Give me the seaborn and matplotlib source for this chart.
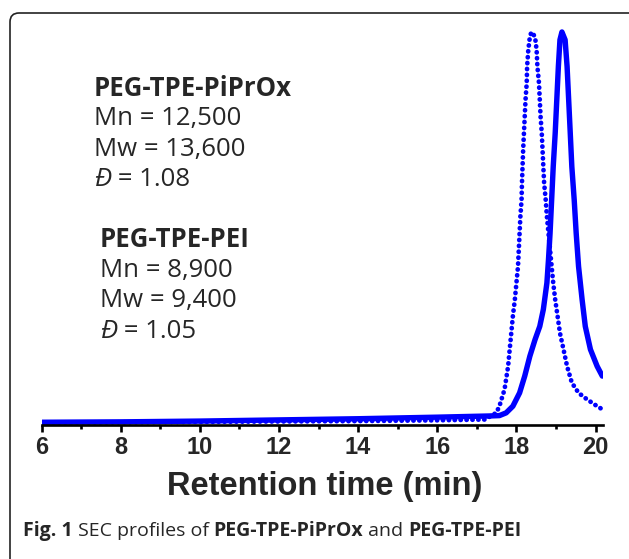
import numpy as np
import pandas as pd
import matplotlib
matplotlib.use("Agg")
import matplotlib.pyplot as plt
import seaborn as sns
from matplotlib.patches import FancyBboxPatch
from matplotlib.transforms import IdentityTransform

sns.set_style("white")

# SEC traces (retention time in min, normalised detector signal)
piprox_time = [6.0, 8.0, 10.0, 12.0, 14.0, 16.0, 17.2, 17.49, 17.57, 17.70, 17.79,
               17.83, 17.87, 17.91, 17.96, 18.00, 18.04, 18.06, 18.08, 18.10, 18.13,
               18.14, 18.17, 18.19, 18.21, 18.23, 18.26, 18.27, 18.30, 18.34, 18.38,
               18.47, 18.51, 18.53, 18.57, 18.59, 18.61, 18.64, 18.66, 18.68, 18.70,
               18.74, 18.77, 18.81, 18.85, 18.89, 18.93, 18.98, 19.04, 19.10, 19.19,
               19.28, 19.40, 19.57, 19.79, 20.04, 20.17]
piprox_signal = [0.002, 0.003, 0.004, 0.005, 0.006, 0.008, 0.010, 0.027, 0.044, 0.087, 0.146,
                 0.189, 0.231, 0.274, 0.316, 0.359, 0.401, 0.444, 0.486, 0.529, 0.571,
                 0.614, 0.699, 0.742, 0.784, 0.827, 0.869, 0.912, 0.954, 0.988, 1.000,
                 0.988, 0.954, 0.912, 0.869, 0.827, 0.784, 0.742, 0.699, 0.656, 0.614,
                 0.571, 0.529, 0.486, 0.444, 0.401, 0.359, 0.316, 0.274, 0.231, 0.189,
                 0.146, 0.104, 0.078, 0.061, 0.044, 0.036]

pei_time = [6.0, 8.0, 10.0, 12.0, 14.0, 16.0, 17.3, 17.57, 17.74, 17.91, 18.08, 18.21,
            18.34, 18.47, 18.59, 18.68, 18.77, 18.81, 18.85, 18.89, 18.93, 18.98,
            19.02, 19.06, 19.10, 19.15, 19.23, 19.28, 19.32, 19.36, 19.40, 19.46,
            19.51, 19.57, 19.66, 19.74, 19.87, 20.04, 20.17]
pei_signal = [0.003, 0.004, 0.006, 0.009, 0.012, 0.016, 0.019, 0.020, 0.027, 0.044, 0.078, 0.121,
              0.172, 0.214, 0.248, 0.291, 0.359, 0.418, 0.486, 0.571, 0.656, 0.742,
              0.827, 0.912, 0.980, 1.000, 0.980, 0.912, 0.827, 0.742, 0.656, 0.571,
              0.486, 0.401, 0.316, 0.248, 0.189, 0.146, 0.121]

major_ticks = [6, 8, 10, 12, 14, 16, 18, 20]
minor_ticks = [7, 9, 11, 13, 15, 17, 19]

piprox_lines = ["Mn = 12,500", "Mw = 13,600", " = 1.08"]
pei_lines = ["Mn = 8,900", "Mw = 9,400", " = 1.05"]

W, H = 629, 559
fig = plt.figure(figsize=(W / 100, H / 100), dpi=100)
ax = fig.add_axes([41.5 / W, 1 - 425 / H, (602.7 - 41.5) / W, (425 - 20) / H])

blue = "#0000ff"
sns.lineplot(x=piprox_time, y=piprox_signal, ax=ax, color=blue, lw=3.4,
             linestyle=(0, (0.05, 1.2)), dash_capstyle="round", estimator=None)
sns.lineplot(x=pei_time, y=pei_signal, ax=ax, color=blue, lw=3.9,
             estimator=None, solid_capstyle="round")

ax.set_xlim(6, 20.18)
ax.set_ylim(-0.004, 1.0306)
for s in ["top", "right", "left"]:
    ax.spines[s].set_visible(False)
ax.spines["bottom"].set_linewidth(1.9)
ax.spines["bottom"].set_color("black")
ax.set_yticks([])
ax.set_xticks(major_ticks)
ax.set_xticks(minor_ticks, minor=True)
ax.tick_params(axis="x", which="major", direction="out", length=5.2, width=1.9,
               color="black", pad=2.5, bottom=True)
ax.tick_params(axis="x", which="minor", direction="out", length=3.2, width=1.9,
               color="black", bottom=True)
for lab in ax.get_xticklabels():
    lab.set_fontfamily("Liberation Sans")
    lab.set_fontweight("bold")
    lab.set_fontsize(17)
ax.set_xlabel("")
ax.patch.set_alpha(0)

fig.text(325 / W, 1 - 486 / H, "Retention time (min)", ha="center", va="center",
         fontsize=23.5, fontweight="bold", family="Liberation Sans")

# annotation blocks
def block(x, y0, title, lines):
    tf = dict(family="Open Sans", fontsize=18.5)
    fig.text(x / W, 1 - y0 / H, title, va="center", fontweight="bold", **tf)
    for i, line in enumerate(lines):
        yy = 1 - (y0 + 31 + i * 30) / H
        if i == 2:
            t = fig.text(x / W, yy, "Đ", va="center", fontstyle="italic", **tf)
            fig.canvas.draw()
            bb = t.get_window_extent()
            fig.text(bb.x1 / W, yy, line, va="center", **tf)
        else:
            fig.text(x / W, yy, line, va="center", **tf)

block(94, 88, "PEG-TPE-PiPrOx", piprox_lines)
block(100, 240, "PEG-TPE-PEI", pei_lines)

# caption with mixed weights
pieces = [("Fig. 1", "bold"), (" SEC profiles of ", "normal"), ("PEG-TPE-PiPrOx", "bold"),
          (" and ", "normal"), ("PEG-TPE-PEI", "bold")]
x = 23
for txt, wt in pieces:
    t = fig.text(x / W, 1 - 531 / H, txt, va="center", fontweight=wt,
                 family="Open Sans", fontsize=14)
    fig.canvas.draw()
    x = t.get_window_extent().x1

# rounded frame around the figure
frame = FancyBboxPatch((10, -12), 640, H - 13 + 12, boxstyle="round,pad=0,rounding_size=9",
                       transform=IdentityTransform(), fill=False, edgecolor="#222222", lw=1.2)
fig.add_artist(frame)

fig.savefig("out.png", dpi=100)
